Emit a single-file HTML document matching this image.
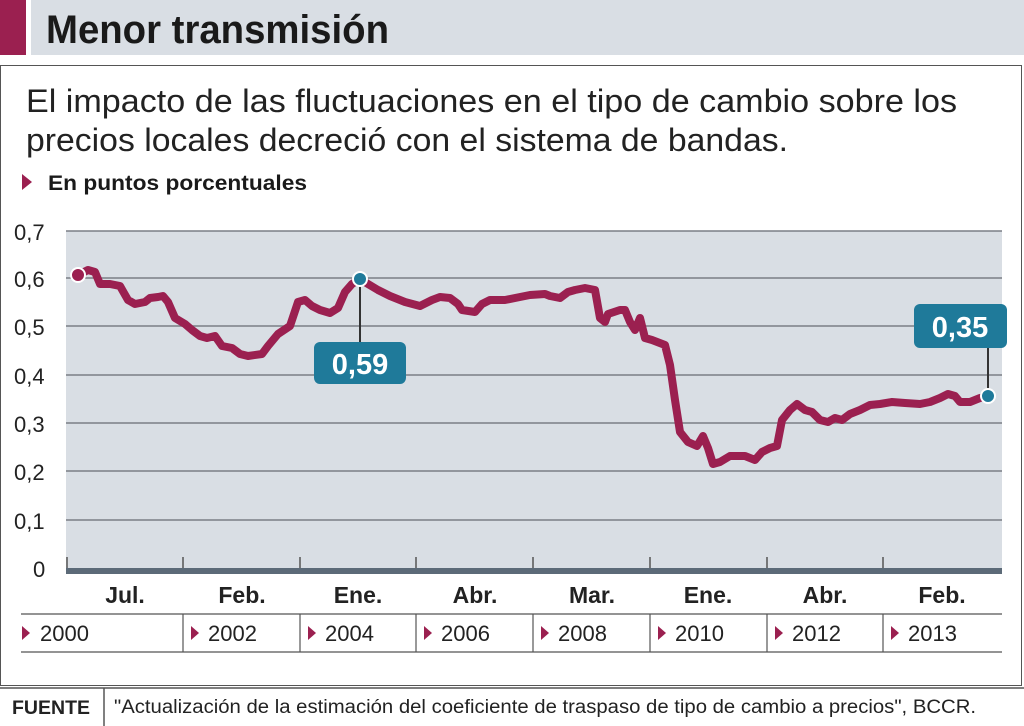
<!DOCTYPE html>
<html><head><meta charset="utf-8"><style>
body{margin:0;width:1024px;height:726px;background:#fff;font-family:"Liberation Sans",sans-serif;overflow:hidden}
</style></head><body>
<svg width="1024" height="726" viewBox="0 0 1024 726" xmlns="http://www.w3.org/2000/svg" style="position:absolute;left:0;top:0">
<rect x="0" y="0" width="26" height="55" fill="#9b2050"/>
<rect x="31" y="0" width="993" height="55" fill="#d9dee4"/>
<text x="46" y="43" font-weight="bold" font-size="40" fill="#1a1a1a" textLength="343" lengthAdjust="spacingAndGlyphs">Menor transmisión</text>
<rect x="0.5" y="65.5" width="1021" height="620" fill="none" stroke="#555" stroke-width="1"/>
<text x="26" y="112" font-size="32" fill="#222" textLength="931" lengthAdjust="spacingAndGlyphs">El impacto de las fluctuaciones en el tipo de cambio sobre los</text>
<text x="26" y="151" font-size="32" fill="#222" textLength="762" lengthAdjust="spacingAndGlyphs">precios locales decreció con el sistema de bandas.</text>
<polygon points="22,174 32,182 22,190" fill="#9b2050"/>
<text x="48" y="190" font-size="21" font-weight="bold" fill="#1a1a1a" textLength="259" lengthAdjust="spacingAndGlyphs">En puntos porcentuales</text>
<rect x="66" y="231" width="936" height="337" fill="#d9dee4"/>
<g stroke="#7a7f85" stroke-width="1.5">
<line x1="66" y1="231" x2="1002" y2="231"/><line x1="66" y1="278" x2="1002" y2="278"/>
<line x1="66" y1="326" x2="1002" y2="326"/><line x1="66" y1="375" x2="1002" y2="375"/>
<line x1="66" y1="423" x2="1002" y2="423"/><line x1="66" y1="471" x2="1002" y2="471"/>
<line x1="66" y1="520" x2="1002" y2="520"/>
</g>
<rect x="66" y="568" width="936" height="6" fill="#5c6a78"/>
<g stroke="#555" stroke-width="1.5">
<line x1="67" y1="557" x2="67" y2="568"/><line x1="183" y1="557" x2="183" y2="568"/><line x1="300" y1="557" x2="300" y2="568"/><line x1="416" y1="557" x2="416" y2="568"/><line x1="533" y1="557" x2="533" y2="568"/><line x1="650" y1="557" x2="650" y2="568"/><line x1="767" y1="557" x2="767" y2="568"/><line x1="883" y1="557" x2="883" y2="568"/>
</g>
<g font-size="22" fill="#222" text-anchor="start">
<text x="14" y="240">0,7</text><text x="14" y="287">0,6</text><text x="14" y="335">0,5</text><text x="14" y="384">0,4</text><text x="14" y="432">0,3</text><text x="14" y="480">0,2</text><text x="14" y="529">0,1</text><text x="33" y="577">0</text>
</g>
<g font-size="23" font-weight="bold" fill="#222" text-anchor="middle">
<text x="125" y="603">Jul.</text><text x="242" y="603">Feb.</text><text x="358" y="603">Ene.</text><text x="475" y="603">Abr.</text><text x="592" y="603">Mar.</text><text x="708" y="603">Ene.</text><text x="825" y="603">Abr.</text><text x="942" y="603">Feb.</text>
</g>
<g stroke="#555" stroke-width="1.2">
<line x1="21" y1="614" x2="1002" y2="614"/><line x1="21" y1="652" x2="1002" y2="652"/>
<line x1="183" y1="614" x2="183" y2="652"/><line x1="300" y1="614" x2="300" y2="652"/><line x1="416" y1="614" x2="416" y2="652"/><line x1="533" y1="614" x2="533" y2="652"/><line x1="650" y1="614" x2="650" y2="652"/><line x1="767" y1="614" x2="767" y2="652"/><line x1="883" y1="614" x2="883" y2="652"/>
</g>
<g fill="#9b2050">
<polygon points="22,626 30,633 22,640"/><polygon points="191,626 199,633 191,640"/><polygon points="308,626 316,633 308,640"/><polygon points="424,626 432,633 424,640"/><polygon points="541,626 549,633 541,640"/><polygon points="658,626 666,633 658,640"/><polygon points="775,626 783,633 775,640"/><polygon points="891,626 899,633 891,640"/>
</g>
<g font-size="22" fill="#222">
<text x="40" y="641">2000</text><text x="208" y="641">2002</text><text x="325" y="641">2004</text><text x="441" y="641">2006</text><text x="558" y="641">2008</text><text x="675" y="641">2010</text><text x="792" y="641">2012</text><text x="908" y="641">2013</text>
</g>
<polyline fill="none" stroke="#9b2050" stroke-width="8" stroke-linejoin="round" stroke-linecap="round" points="78,275 88,270 95,272 100,284 110,284 120,286 128,300 135,304 145,302 150,298 158,297 163,296 168,302 175,318 185,324 192,330 200,336 207,338 215,336 222,346 232,348 240,354 248,356 262,354 268,346 278,334 290,326 298,302 305,300 312,306 320,310 330,313 338,308 345,292 352,284 360,279 368,284 378,290 390,296 405,302 420,306 432,300 440,297 450,298 458,304 462,310 475,312 482,304 490,300 505,300 520,297 530,295 545,294 550,296 560,298 568,292 575,290 585,288 595,290 600,318 605,322 608,314 620,310 625,310 630,322 635,330 640,318 645,338 652,340 665,345 670,365 675,400 680,432 688,442 697,446 703,436 708,448 713,464 720,462 730,456 745,456 755,460 762,452 770,448 777,446 782,420 790,410 797,404 805,410 812,412 820,420 828,422 835,418 842,420 850,414 860,410 870,405 880,404 892,402 905,403 920,404 930,402 940,398 948,394 955,396 960,402 970,402 980,398 988,396"/>
<circle cx="78" cy="275" r="7" fill="#9b2050" stroke="#fff" stroke-width="2"/>
<line x1="360" y1="279" x2="360" y2="345" stroke="#333" stroke-width="2"/>
<rect x="314" y="342" width="92" height="42" rx="6" fill="#1f7a9a"/>
<text x="360" y="374" font-size="29" font-weight="bold" fill="#fff" text-anchor="middle">0,59</text>
<circle cx="360" cy="279" r="7" fill="#1f7a9a" stroke="#fff" stroke-width="2"/>
<line x1="988" y1="346" x2="988" y2="396" stroke="#333" stroke-width="2"/>
<rect x="914" y="304" width="93" height="44" rx="6" fill="#1f7a9a"/>
<text x="960" y="337" font-size="29" font-weight="bold" fill="#fff" text-anchor="middle">0,35</text>
<circle cx="988" cy="396" r="7" fill="#1f7a9a" stroke="#fff" stroke-width="2"/>
<line x1="0" y1="688" x2="1024" y2="688" stroke="#555" stroke-width="1.5"/>
<line x1="104" y1="688" x2="104" y2="726" stroke="#555" stroke-width="1.5"/>
<text x="12" y="714" font-size="19" font-weight="bold" fill="#222" textLength="78" lengthAdjust="spacingAndGlyphs">FUENTE</text>
<text x="114" y="713" font-size="19" fill="#222" textLength="862" lengthAdjust="spacingAndGlyphs">"Actualización de la estimación del coeficiente de traspaso de tipo de cambio a precios", BCCR.</text>
</svg>
</body></html>
